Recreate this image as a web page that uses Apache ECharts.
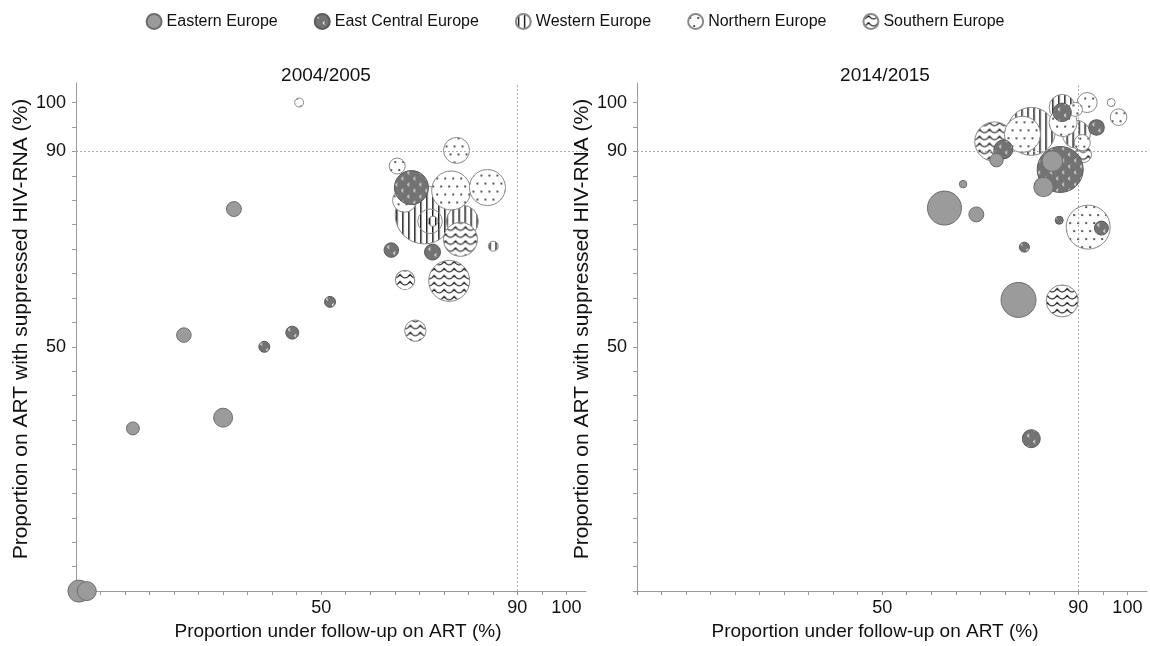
<!DOCTYPE html>
<html>
<head>
<meta charset="utf-8">
<script src="https://cdn.jsdelivr.net/npm/echarts@6/dist/echarts.min.js"></script>
<style>
html,body{margin:0;padding:0;background:#fff;}
#chart{width:1150px;height:646px;}
</style>
</head>
<body>
<div id="chart"></div>
<script>
// ---- Data: [proportion on ART (%), proportion suppressed (%), relative cohort weight] ----
const regions = ['Eastern Europe', 'East Central Europe', 'Western Europe', 'Northern Europe', 'Southern Europe'];
const panelTitles = ['2004/2005', '2014/2015'];
const xTickLabels = [50, 90, 100];
const yTickLabels = [50, 90, 100];
const refX = 90;
const refY = 90;

const eastern0405 = [[0.6,0,121],[2.2,0,90],[11.6,33.3,42],[30,35.5,90],[22,52.4,53],[32.2,78.2,56]];
const eastCentral0405 = [[68.4,82.6,289],[64.3,69.8,53],[72.7,69.4,64],[38.4,50,30],[44.1,52.9,42],[51.8,59.2,30]];
const western0405 = [[71,77,841],[78.8,75.7,256],[72.2,75.7,150],[72.8,75.7,25],[85.1,70.6,25]];
const northern0405 = [[76.5,82,380],[83.9,82.6,324],[77.6,90.2,169],[67,80,144],[65.5,87,64],[45.5,100,20]];
const southern0405 = [[76.1,63.5,420],[78.4,72,289],[69.2,53.3,114],[67.1,63.7,94]];

const eastern1415 = [[62.7,78.4,289],[77.8,59.6,306],[84.7,88,106],[82.9,82.7,94],[69.2,77.1,56],[73.3,88.2,45],[66.5,83.3,14]];
const eastCentral1415 = [[86.3,86.3,529],[74.7,90.4,90],[86.7,98,85],[80.4,31.2,81],[93.7,94.9,61],[94.7,74.3,49],[79,70.4,25],[86.1,75.9,16]];
const western1415 = [[80.4,94.1,576],[89.6,93.5,196],[86.7,99,169]];
const northern1415 = [[92,74.5,484],[78.6,93.5,324],[86.9,95.9,196],[91.8,100,100],[98.2,97,69],[90.8,91.8,64],[89.4,98.6,49],[96.7,100,16]];
const southern1415 = [[72.9,92,388],[86.7,59.4,256],[91,89.4,69]];

const panels = [
  [eastern0405, eastCentral0405, western0405, northern0405, southern0405],
  [eastern1415, eastCentral1415, western1415, northern1415, southern1415]
];

// ---- Pattern fills ----
function mkCanvas(w, h, bg, draw) {
  const c = document.createElement('canvas');
  c.width = w; c.height = h;
  const g = c.getContext('2d');
  g.fillStyle = bg; g.fillRect(0, 0, w, h);
  draw(g);
  return c;
}
const cvEastCentral = mkCanvas(12, 12, '#737373', g => {
  g.strokeStyle = '#fff'; g.lineWidth = 1;
  g.beginPath(); g.moveTo(4, 1.5); g.lineTo(2, 3); g.lineTo(4, 4.5); g.stroke();
  g.beginPath(); g.moveTo(10, 7.5); g.lineTo(8, 9); g.lineTo(10, 10.5); g.stroke();
});
const cvWestern = mkCanvas(6, 6, '#fff', g => {
  g.fillStyle = '#111'; g.fillRect(2, 0, 1.4, 6);
});
const cvNorthern = mkCanvas(8, 16, '#fff', g => {
  g.fillStyle = '#222';
  g.beginPath(); g.arc(2, 4, 1, 0, Math.PI * 2); g.fill();
  g.beginPath(); g.arc(6, 12, 1, 0, Math.PI * 2); g.fill();
});
const cvSouthern = mkCanvas(10, 7, '#fff', g => {
  g.strokeStyle = '#111'; g.lineWidth = 1.2;
  g.beginPath(); g.moveTo(0, 5); g.quadraticCurveTo(2.5, 5, 5, 1.5); g.quadraticCurveTo(7.5, 5, 10, 5); g.stroke();
});
const canvases = [null, cvEastCentral, cvWestern, cvNorthern, cvSouthern];
const solidEastern = '#9b9b9b';
function fillFor(r, scale) {
  if (!canvases[r]) return solidEastern;
  return { image: canvases[r], repeat: 'repeat', scaleX: scale, scaleY: scale };
}
const borders = ['#6e6e6e', '#5a5a5a', '#8a8a8a', '#8a8a8a', '#8a8a8a'];
const zOrder = [6, 5, 2, 4, 3];

const FONT = "'Liberation Sans', Arial, Helvetica, sans-serif";
const ticks5 = [];
for (let v = 0; v <= 100; v += 5) ticks5.push(v);

const gridLeft = [76, 637];
const grids = gridLeft.map(l => ({ left: l, top: 83, width: 510, height: 510 }));
const xNamePad = [[0, 0, 0, 14], [0, 34, 0, 0]];

function bubbleSize(d) { return 2 * Math.sqrt(d[2]); }

function xAxisFor(i) {
  return {
    type: 'value', gridIndex: i, min: 0, max: 104,
    name: 'Proportion under follow-up on ART (%)', nameLocation: 'middle', nameGap: 30,
    nameTextStyle: { fontSize: 19, color: '#111', fontFamily: FONT, padding: xNamePad[i] },
    axisLine: { show: true, onZero: false, lineStyle: { color: '#999', width: 1 } },
    axisTick: { show: true, length: 4, customValues: ticks5, lineStyle: { color: '#999' } },
    axisLabel: { customValues: xTickLabels, fontSize: 18, color: '#111', fontFamily: FONT, margin: 8 },
    splitLine: { show: false }
  };
}
function yAxisFor(i) {
  return {
    type: 'value', gridIndex: i, min: 0, max: 104,
    name: 'Proportion on ART with suppressed HIV-RNA (%)', nameLocation: 'middle', nameGap: 44,
    nameTextStyle: { fontSize: 21, color: '#111', fontFamily: FONT, padding: [0, 0, 0, 16] },
    axisLine: { show: true, onZero: false, lineStyle: { color: '#999', width: 1 } },
    axisTick: { show: true, length: 4, customValues: ticks5, lineStyle: { color: '#999' } },
    axisLabel: { customValues: yTickLabels, fontSize: 18, color: '#111', fontFamily: FONT, margin: 10 },
    splitLine: { show: false }
  };
}

const series = [];
panels.forEach((sets, p) => {
  sets.forEach((data, r) => {
    series.push({
      name: regions[r], type: 'scatter', xAxisIndex: p, yAxisIndex: p, z: zOrder[r],
      data: data.map(d => ({
        value: d,
        itemStyle: { color: fillFor(r, 2 / bubbleSize(d)) }
      })),
      symbolSize: bubbleSize,
      itemStyle: { color: fillFor(r, 1), borderColor: borders[r], borderWidth: 1, opacity: 1 },
      emphasis: { disabled: true }
    });
  });
  series.push({
    name: 'ref' + p, type: 'line', xAxisIndex: p, yAxisIndex: p, data: [], z: 1,
    markLine: {
      silent: true, symbol: 'none', animation: false,
      label: { show: false },
      lineStyle: { type: [2, 2], color: '#aaa', width: 1 },
      data: [{ yAxis: refY }, { xAxis: refX }]
    }
  });
});

const chart = echarts.init(document.getElementById('chart'), null, { renderer: 'canvas' });
chart.setOption({
  animation: false,
  backgroundColor: '#fff',
  textStyle: { fontFamily: FONT },
  title: panelTitles.map((t, i) => ({
    text: t, left: [321, 880][i], top: 61, textAlign: 'center',
    textStyle: { fontSize: 19, fontWeight: 'normal', color: '#111', fontFamily: FONT }
  })),
  legend: {
    data: regions, top: 8, left: 'center', icon: 'circle',
    itemWidth: 15, itemHeight: 15, itemGap: 36,
    textStyle: { fontSize: 16, color: '#111', fontFamily: FONT }
  },
  grid: grids,
  xAxis: [xAxisFor(0), xAxisFor(1)],
  yAxis: [yAxisFor(0), yAxisFor(1)],
  series: series
});
</script>
</body>
</html>
